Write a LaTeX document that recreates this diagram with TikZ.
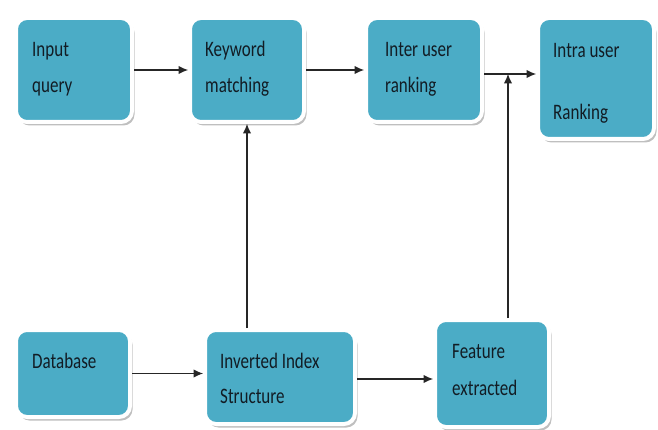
\documentclass[tikz,border=0pt]{standalone}
\usepackage{fontspec}
\usepackage{graphicx}
\setmainfont{Carlito}
\usetikzlibrary{arrows.meta,shadows}
\definecolor{boxfill}{RGB}{75,172,198}
\definecolor{txtcol}{RGB}{18,28,36}
\newcommand{\tallword}[1]{\scalebox{1}[1.3]{#1}}
\tikzset{
  stage/.style={rectangle, rounded corners=11pt, fill=boxfill, draw=white,
    line width=4pt, inner sep=0pt,
    drop shadow={shadow xshift=2.5pt, shadow yshift=-3.5pt, fill=black, opacity=0.25}},
  txt/.style={anchor=base west, inner sep=0pt, text=txtcol,
    font=\fontsize{17}{20}\selectfont},
  arr/.style={line width=1.1pt, draw=black!85,
    -{Latex[length=9.5pt,width=8.5pt]}}
}
\begin{document}
\begin{tikzpicture}[x=1pt,y=-1pt]
\useasboundingbox (0,0) rectangle (658,430);

% pipeline boxes
\node[stage, minimum width=116pt, minimum height=104pt] (in)    at (74,70)    {};
\node[stage, minimum width=114pt, minimum height=104pt] (kw)    at (247,70)   {};
\node[stage, minimum width=116pt, minimum height=104pt] (inter) at (424,70)   {};
\node[stage, minimum width=116pt, minimum height=121pt] (intra) at (596,78.5) {};
\node[stage, minimum width=114pt, minimum height=87pt]  (db)    at (73,373.5) {};
\node[stage, minimum width=150pt, minimum height=94pt]  (inv)   at (280,377)  {};
\node[stage, minimum width=114pt, minimum height=107pt] (feat)  at (492,373.5){};

% box captions
\node[txt] (in1)    at (32,57)   {\tallword{Input}};
\node[txt] (in2)    at (32,93)   {\tallword{query}};
\node[txt] (kw1)    at (205,57)  {\tallword{Keyword}};
\node[txt] (kw2)    at (205,93)  {\tallword{matching}};
\node[txt] (inter1) at (385,57)  {\tallword{Inter user}};
\node[txt] (inter2) at (385,93)  {\tallword{ranking}};
\node[txt] (intra1) at (553,58)  {\tallword{Intra user}};
\node[txt] (intra2) at (553,120) {\tallword{Ranking}};
\node[txt] (db1)    at (32,368)  {\tallword{Database}};
\node[txt] (inv1)   at (220,368) {\tallword{Inverted Index}};
\node[txt] (inv2)   at (220,403) {\tallword{Structure}};
\node[txt] (feat1)  at (452,358) {\tallword{Feature}};
\node[txt] (feat2)  at (452,395) {\tallword{extracted}};

% connectors
\draw[arr] (in.east) -- (in.east -| kw.west);
\draw[arr] (kw.east) -- (kw.east -| inter.west);
\draw[arr] ([yshift=-4pt]inter.east) -- ([yshift=-4pt]inter.east -| intra.west);
\coordinate (join) at (508,74);
\draw[arr] (join |- feat.north) -- (join);
\draw[arr] (kw.south |- inv.north) -- (kw.south);
\draw[arr] (db.east) -- (db.east -| inv.west);
\draw[arr] ([yshift=-2pt]inv.east) -- ([yshift=-2pt]inv.east -| feat.west);
\end{tikzpicture}
\end{document}
